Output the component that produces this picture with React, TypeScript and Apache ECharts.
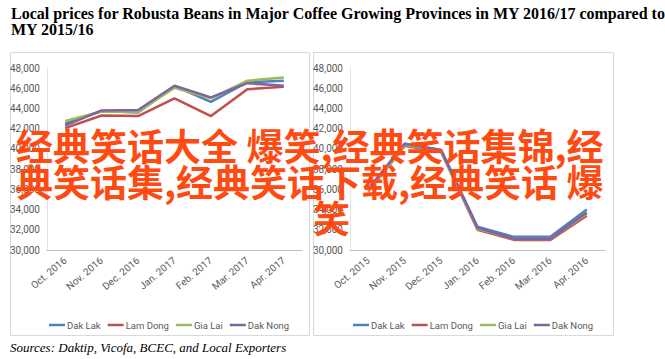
import React, { useEffect, useRef } from "react";
import * as echarts from "echarts";

const months1 = ["Oct. 2016", "Nov. 2016", "Dec. 2016", "Jan. 2017", "Feb. 2017", "Mar. 2017", "Apr. 2017"];
const months2 = ["Oct. 2015", "Nov. 2015", "Dec. 2015", "Jan. 2016", "Feb. 2016", "Mar. 2016", "Apr. 2016"];
const seriesNames = ["Dak Lak", "Lam Dong", "Gia Lai", "Dak Nong"];
const colors = ["#4F81BD", "#C0504D", "#9BBB59", "#8064A2"];

// MY 2016/17
const dakLak1 = [42500, 43750, 43600, 46200, 44650, 46600, 46750];
const lamDong1 = [42050, 43300, 43250, 45000, 43250, 45900, 46150];
const giaLai1 = [42750, 43700, 43650, 46050, 45000, 46750, 47050];
const dakNong1 = [42300, 43800, 43850, 46250, 45100, 46500, 46250];

// MY 2015/16
const dakLak2 = [36000, 40500, 39900, 32300, 31300, 31300, 34000];
const lamDong2 = [35800, 40300, 39700, 32000, 31000, 31000, 33400];
const giaLai2 = [35900, 40400, 39800, 32100, 31100, 31100, 33600];
const dakNong2 = [36000, 40500, 39900, 32200, 31100, 31100, 33700];

const yMin = 30000;
const yMax = 48000;
const yInterval = 2000;

const titleText = "Local prices for Robusta Beans in Major Coffee Growing Provinces in MY 2016/17 compared to\nMY 2015/16";
const sourceText = "Sources: Daktip, Vicofa, BCEC, and Local Exporters";
const overlayLines = ["经典笑话大全 爆笑,经典笑话集锦,经", "典笑话集,经典笑话下载,经典笑话 爆", "笑"];

const axisFont = "Roboto, 'Liberation Sans', sans-serif";

export default function App() {
  const ref = useRef<HTMLDivElement>(null);
  useEffect(() => {
    if (!ref.current) return;
    const chart = echarts.init(ref.current, null, { renderer: "svg" });
    const data1 = [dakLak1, lamDong1, giaLai1, dakNong1];
    const data2 = [dakLak2, lamDong2, giaLai2, dakNong2];
    const fmt = (v: number) => v.toLocaleString("en-US");
    const makeX = (cats: string[], gi: number) => ({
      type: "category",
      gridIndex: gi,
      data: cats,
      boundaryGap: true,
      axisLine: { show: true, lineStyle: { color: "#bfbfbf", width: 1 } },
      axisTick: { show: false },
      axisLabel: { rotate: 40, fontSize: 10, color: "#595959", fontFamily: axisFont, margin: 9, interval: 0 },
    });
    const makeY = (gi: number) => ({
      type: "value",
      gridIndex: gi,
      min: yMin,
      max: yMax,
      interval: yInterval,
      axisLine: { show: true, lineStyle: { color: "#e3e3e3", width: 1 } },
      axisTick: { show: false },
      splitLine: { show: false },
      axisLabel: { fontSize: 10, color: "#595959", fontFamily: axisFont, margin: 7, formatter: fmt },
    });
    const series: any[] = [];
    seriesNames.forEach((n, i) => {
      series.push({
        name: n, type: "line", xAxisIndex: 0, yAxisIndex: 0, data: data1[i],
        symbol: "none", lineStyle: { width: 2.5, color: colors[i] }, itemStyle: { color: colors[i] },
      });
    });
    seriesNames.forEach((n, i) => {
      series.push({
        name: n, type: "line", xAxisIndex: 1, yAxisIndex: 1, data: data2[i],
        symbol: "none", lineStyle: { width: 2.5, color: colors[i] }, itemStyle: { color: colors[i] },
      });
    });
    const legendCommon = {
      data: seriesNames,
      icon: "rect",
      itemWidth: 16,
      itemHeight: 2.5,
      itemGap: 7,
      selectedMode: false,
      textStyle: { fontSize: 9.5, color: "#595959", fontFamily: axisFont, padding: [0, 0, 0, -3] },
      top: 315,
    };
    chart.setOption({
      animation: false,
      color: colors,
      title: {
        text: titleText,
        left: 6,
        top: 0,
        textStyle: { fontFamily: "'Liberation Serif', 'Times New Roman', serif", fontWeight: "bold", fontSize: 16, color: "#000", lineHeight: 16 },
      },
      grid: [
        { left: 47, right: 363, top: 68, bottom: 109 },
        { left: 350, right: 60, top: 68, bottom: 109 },
      ],
      xAxis: [makeX(months1, 0), makeX(months2, 1)],
      yAxis: [makeY(0), makeY(1)],
      legend: [
        { ...legendCommon, left: 44 },
        { ...legendCommon, left: 348 },
      ],
      series,
      graphic: [
        { type: "rect", z: -1, shape: { x: 10.5, y: 52.5, width: 299, height: 283 }, style: { fill: "none", stroke: "#d9d9d9", lineWidth: 1 } },
        { type: "rect", z: -1, shape: { x: 313.5, y: 52.5, width: 300, height: 283 }, style: { fill: "none", stroke: "#d9d9d9", lineWidth: 1 } },
        {
          type: "text", left: 10, top: 341,
          style: { text: sourceText, fontFamily: "'Liberation Serif', 'Times New Roman', serif", fontStyle: "italic", fontSize: 13, fill: "#000" },
        },
        ...overlayLines.map((t, i) => ({
          type: "text",
          z: 100,
          x: i === 2 ? 313 : 16,
          y: 126 + i * 36,
          style: { text: t, fontFamily: "'Noto Sans CJK SC', sans-serif", fontWeight: "bold", fontSize: 37, fill: "#ff4a12" },
        })),
      ],
    });
    return () => chart.dispose();
  }, []);
  return <div ref={ref} style={{ position: "fixed", left: 0, top: 0, width: 665, height: 359, background: "#fff" }} />;
}
